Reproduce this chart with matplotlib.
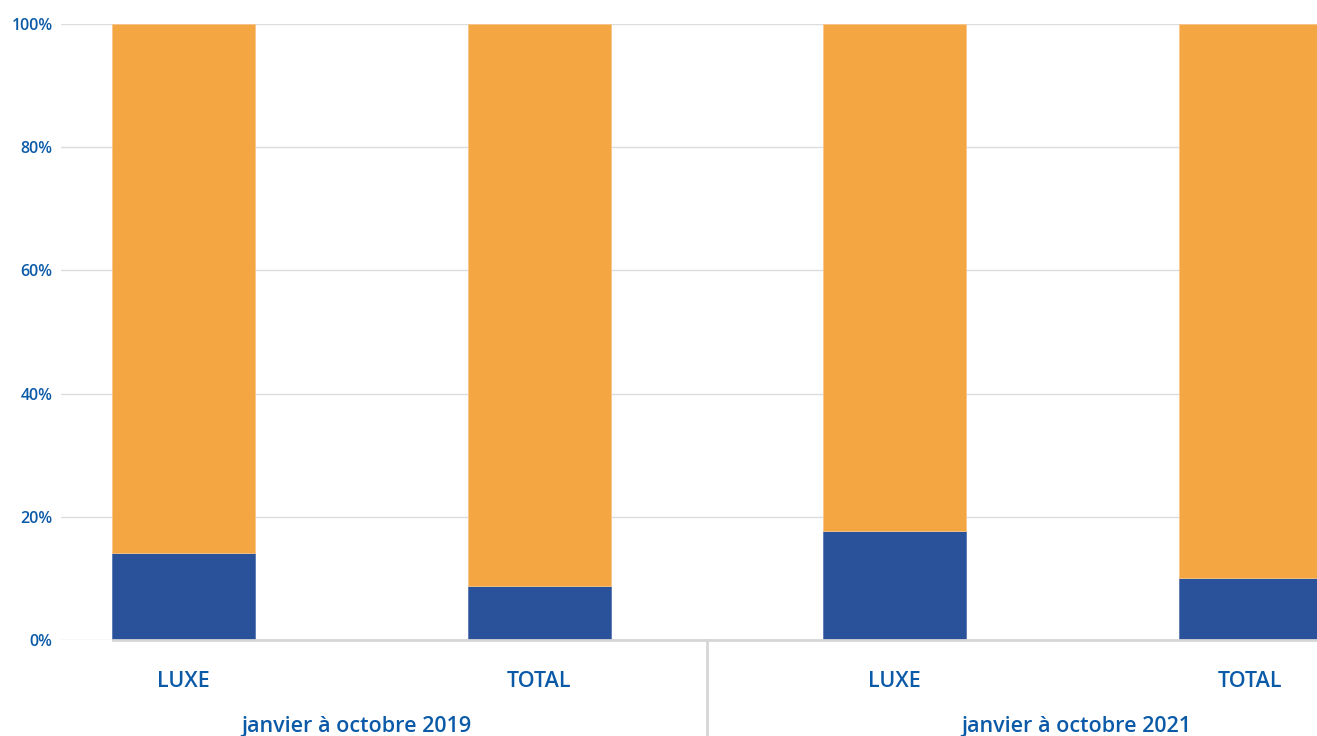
import numpy as np
import matplotlib.pyplot as plt

# share of each segment (%)
categories = ["LUXE", "TOTAL", "LUXE", "TOTAL"]
groups = ["janvier à octobre 2019", "janvier à octobre 2021"]
blue_share = [14.1, 8.8, 17.7, 10.1]
orange_share = [100 - v for v in blue_share]

BLUE = "#29529b"
ORANGE = "#f4a642"
TEXT = "#0b5aa8"

plt.rcParams["font.family"] = ["Open Sans", "DejaVu Sans"]

fig = plt.figure(figsize=(13.17, 7.36), dpi=100)
ax = fig.add_axes([61 / 1317, 96 / 736, 1 - 61 / 1317, 616 / 736])

x = np.arange(len(categories))
ax.bar(x, blue_share, width=0.402, color=BLUE, edgecolor="#5a78b3", linewidth=0.6, zorder=3)
ax.bar(x, orange_share, bottom=blue_share, width=0.402, color=ORANGE,
       edgecolor="#f7c68a", linewidth=0.6, zorder=3)

ax.set_xlim(-0.345, 3.188)
ax.set_ylim(0, 100)
ax.set_yticks([0, 20, 40, 60, 80, 100])
ax.set_yticklabels([f"{v}%" for v in [0, 20, 40, 60, 80, 100]],
                   color=TEXT, fontsize=11.5, fontweight="semibold")
ax.yaxis.grid(True, color="#dddddd", linewidth=1.0, zorder=0)
ax.tick_params(axis="y", length=0, pad=6)

ax.set_xticks(x)
ax.set_xticklabels(categories, color=TEXT, fontsize=15.5, fontweight="semibold")
ax.tick_params(axis="x", length=0, pad=22)

for side in ["left", "right", "top"]:
    ax.spines[side].set_visible(False)
ax.spines["bottom"].set_color("#d6d6d6")
ax.spines["bottom"].set_linewidth(2)
ax.spines["bottom"].set_bounds(-0.2, 3.188)
ax.spines["bottom"].set_zorder(4)

# group labels and separator under the axis
trans = ax.get_xaxis_transform()
for xc, g in zip([0.485, 2.51], groups):
    ax.text(xc, -0.141, g, transform=trans, ha="center", va="center",
            color=TEXT, fontsize=15.5, fontweight="semibold")
ax.plot([1.473, 1.473], [0, -0.157], transform=trans, color="#d6d6d6",
        linewidth=2, clip_on=False)

fig.savefig("out.png", dpi=100)
